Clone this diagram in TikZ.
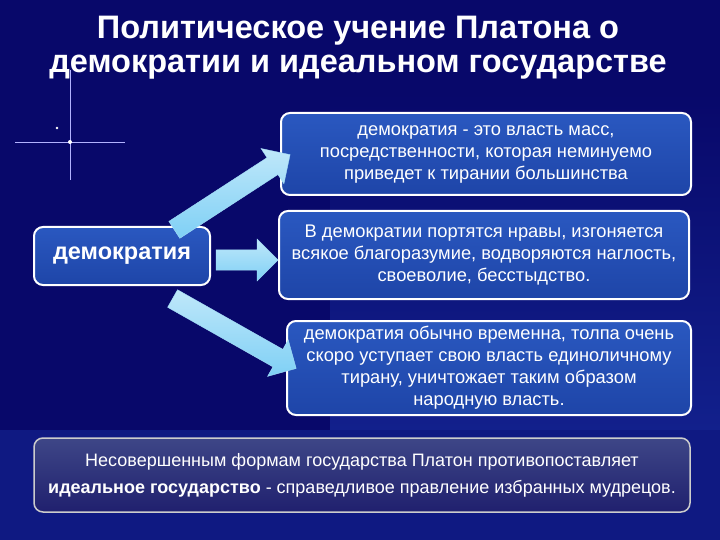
\documentclass[tikz,border=0pt]{standalone}
\usepackage{fontspec}
\setmainfont{Liberation Sans}
\usetikzlibrary{shapes.arrows,shadows}
\definecolor{bgdark}{HTML}{08086A}
\definecolor{bgmid}{HTML}{12208C}
\definecolor{boxfill}{HTML}{1E45A8}
\definecolor{boxfill2}{HTML}{2A58C0}
\definecolor{arrowc}{HTML}{7FD0F5}
\tikzset{
 card/.style={draw=white,line width=2pt,rounded corners=9pt,top color=boxfill2,bottom color=boxfill,text=white,align=center,font=\fontsize{18.3}{22}\selectfont,inner sep=3pt},
 blockarrow/.style={single arrow,draw=arrowc!70!white,top color=arrowc!50!white,bottom color=arrowc,minimum width=42pt,single arrow head extend=10pt,inner sep=9pt,text width=0pt},
 ttl/.style={text=white,font=\bfseries\fontsize{32.5}{34}\selectfont,align=center}
}
\begin{document}
\begin{tikzpicture}[x=1pt,y=-1pt]
\useasboundingbox (0,0) rectangle (720,540);
\fill[bgdark] (0,0) rectangle (720,540);
\fill[bottom color=bgmid,top color=bgdark] (330,92) rectangle (720,430);
\fill[bgmid!70!bgdark] (0,430) rectangle (720,540);
% star
\draw[white!70!blue,line width=0.6pt] (15,142) -- (125,142);
\draw[white!70!blue,line width=0.6pt] (70,70) -- (70,180);
\fill[white] (70,142) circle (2pt);
\fill[white] (57,128) circle (1.3pt);
% title
\node[ttl] (title) at (358,48) {Политическое учение Платона о\\демократии и идеальном государстве};
% boxes
\node[card,minimum width=410pt,minimum height=82pt] (b1) at (486,154) {демократия - это власть масс,\\посредственности, которая неминуемо\\приведет к тирании большинства};
\node[card,minimum width=410pt,minimum height=88pt] (b2) at (484,255) {В демократии портятся нравы, изгоняется\\всякое благоразумие, водворяются наглость,\\своеволие, бесстыдство.};
\node[card,minimum width=404pt,minimum height=94pt] (b3) at (489,368) {демократия обычно временна, толпа очень\\скоро уступает свою власть единоличному\\тирану, уничтожает таким образом\\народную власть.};
\node[card,minimum width=176pt,minimum height=58pt,font=\bfseries\fontsize{23.5}{26}\selectfont] (d) at (122,256) {демократия};
\node[draw=white!60!gray,line width=1.5pt,rounded corners=9pt,top color=bgmid!60!gray,bottom color=bgdark!80!gray,text=white,align=center,font=\fontsize{18}{27}\selectfont,minimum width=656pt,minimum height=74pt] (bot) at (362,475) {Несовершенным формам государства Платон противопоставляет\\\textbf{идеальное государство} - справедливое правление избранных мудрецов.};
% arrows
\node[blockarrow,minimum height=138pt,rotate=33] (a1) at (228,195) {};
\node[blockarrow,minimum height=62pt] (a2) at (242,260) {};
\node[blockarrow,minimum height=142pt,rotate=-29.5] (a3) at (230,331) {};
\end{tikzpicture}
\end{document}
